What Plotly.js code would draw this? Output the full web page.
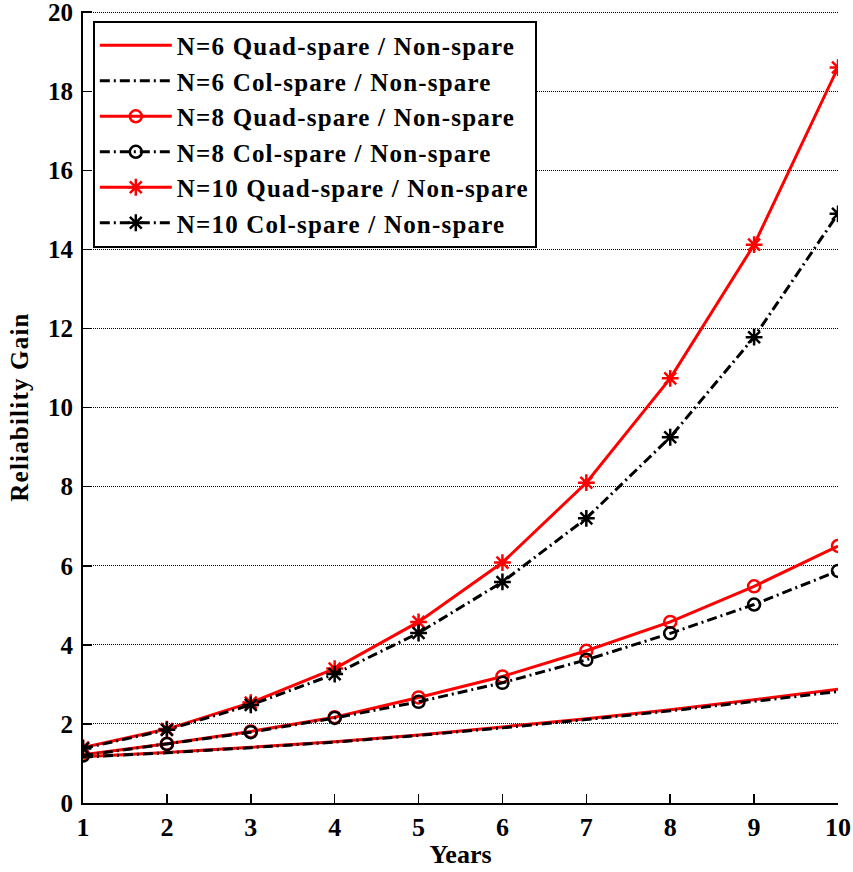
<!DOCTYPE html>
<html>
<head>
<meta charset="utf-8">
<script src="https://cdn.plot.ly/plotly-3.0.1.min.js"></script>
<style>
  html, body { margin: 0; padding: 0; background: #ffffff; }
  #chart { width: 853px; height: 872px; }
  /* slightly open letter spacing for the legend entries and the y title */
  .legendtext, .ytitle { letter-spacing: 1.2px; }
</style>
</head>
<body>
<div id="chart"></div>
<script>
// Years of operation
const years = [1, 2, 3, 4, 5, 6, 7, 8, 9, 10];

// Reliability gain relative to the non-spare design
const n6Quad  = [1.17, 1.28, 1.41, 1.55, 1.72, 1.92, 2.13, 2.36, 2.61, 2.88];
const n6Col   = [1.16, 1.27, 1.40, 1.54, 1.71, 1.90, 2.11, 2.33, 2.57, 2.82];
const n8Quad  = [1.22, 1.50, 1.81, 2.17, 2.67, 3.20, 3.85, 4.58, 5.48, 6.50];
const n8Col   = [1.20, 1.49, 1.79, 2.15, 2.56, 3.04, 3.62, 4.29, 5.02, 5.87];
const n10Quad = [1.40, 1.87, 2.54, 3.40, 4.58, 6.08, 8.10, 10.74, 14.12, 18.60];
const n10Col  = [1.38, 1.85, 2.48, 3.26, 4.30, 5.59, 7.20, 9.25, 11.78, 14.90];

const seriesNames = [
  'N=6 Quad-spare / Non-spare',
  'N=6 Col-spare / Non-spare',
  'N=8 Quad-spare / Non-spare',
  'N=8 Col-spare / Non-spare',
  'N=10 Quad-spare / Non-spare',
  'N=10 Col-spare / Non-spare'
];

const yTicks = [0, 2, 4, 6, 8, 10, 12, 14, 16, 18, 20];

const RED = '#ff0000';
const BLACK = '#000000';
const DASHDOT = '10px,4px,2px,4px';
const FONT = '"Liberation Serif", "Times New Roman", serif';

function trace(y, name, color, dash, symbol, size) {
  const t = {
    x: years, y: y, name: name, type: 'scatter',
    mode: symbol ? 'lines+markers' : 'lines',
    line: { color: color, width: 3, dash: dash }
  };
  if (symbol) {
    t.marker = {
      symbol: symbol, size: size, color: color,
      line: { color: color, width: 2.5 }
    };
  }
  return t;
}

const data = [
  trace(n6Quad,  seriesNames[0], RED,   'solid', null),
  trace(n6Col,   seriesNames[1], BLACK, DASHDOT, null),
  trace(n8Quad,  seriesNames[2], RED,   'solid', 'circle-open', 12),
  trace(n8Col,   seriesNames[3], BLACK, DASHDOT, 'circle-open', 12),
  trace(n10Quad, seriesNames[4], RED,   'solid', 'asterisk-open', 14),
  trace(n10Col,  seriesNames[5], BLACK, DASHDOT, 'asterisk-open', 14)
];

const layout = {
  width: 853, height: 872,
  margin: { l: 83, r: 15, t: 11, b: 69 },
  paper_bgcolor: '#ffffff',
  plot_bgcolor: '#ffffff',
  font: { family: FONT, size: 25, color: '#000000', weight: 'bold' },
  showlegend: true,
  legend: {
    x: 0.013, y: 0.988, xanchor: 'left', yanchor: 'top',
    bgcolor: '#ffffff', bordercolor: '#000000', borderwidth: 2,
    font: { family: FONT, size: 25, color: '#000000', weight: 'bold' },
    itemwidth: 72, tracegroupgap: 0
  },
  xaxis: {
    range: [1, 10], tickvals: years, ticktext: years.map(String),
    showgrid: false, zeroline: false,
    showline: true, linecolor: '#000000', linewidth: 2,
    ticks: 'inside', ticklen: 9, tickwidth: 1.5, tickcolor: '#000000',
    ticklabeloverflow: 'allow',
    tickfont: { family: FONT, size: 26, weight: 'bold' },
    title: { text: 'Years', font: { family: FONT, size: 26, weight: 'bold' }, standoff: 4 }
  },
  yaxis: {
    range: [0, 20.03], tickvals: yTicks, ticktext: yTicks.map(String),
    showgrid: true, gridcolor: '#000000', gridwidth: 1, griddash: '1px,1px',
    zeroline: false,
    showline: true, linecolor: '#000000', linewidth: 2,
    ticks: 'inside', ticklen: 9, tickwidth: 1.5, tickcolor: '#000000',
    ticklabelstandoff: 3, ticklabeloverflow: 'allow',
    tickfont: { family: FONT, size: 25, weight: 'bold' },
    title: { text: 'Reliability Gain', font: { family: FONT, size: 25, weight: 'bold' }, standoff: 12 }
  }
};

Plotly.newPlot('chart', data, layout, { displayModeBar: false, staticPlot: true });
</script>
</body>
</html>
